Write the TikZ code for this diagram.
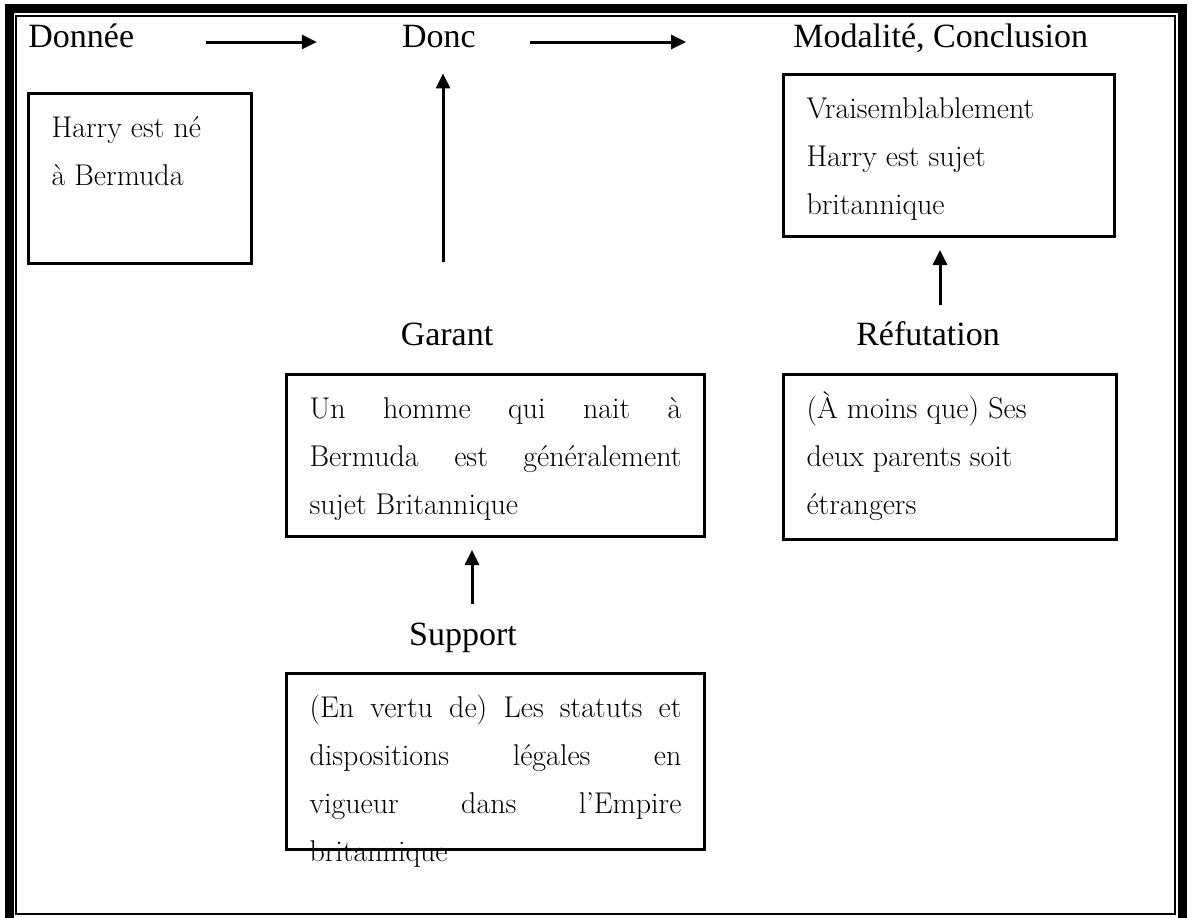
\documentclass[tikz,border=0pt]{standalone}
\usepackage{fontspec}
\newfontfamily\labelfont{Liberation Serif}
\usetikzlibrary{arrows.meta}

\tikzset{
  box/.style={draw, line width=1.5pt, anchor=north west, align=justify,
    inner xsep=11.5pt, inner ysep=4pt, text height=18pt,
    font=\fontsize{15}{24}\selectfont},
  lbl/.style={anchor=base, inner sep=0pt, text height=10pt, text depth=5pt,
    font=\labelfont\fontsize{17}{20}\selectfont},
  arr/.style={-{Triangle[length=7.5pt,width=7pt]}, line width=1.5pt},
}

\begin{document}
\begin{tikzpicture}[x=0.5pt, y=-0.5pt]
                \useasboundingbox (0,0) rectangle (1192,917);
                % double frame
                \draw[line width=4.5pt] (9,8) rectangle (1182.5,940);
                \draw[line width=1pt] (16,16) rectangle (1175,914);
                % labels
                \node[lbl, anchor=base west] (donnee) at (28,47) {Donnée};
                \node[lbl] (donc) at (439,47) {Donc};
                \node[lbl, anchor=base west] (modalite) at (793,47) {Modalité, Conclusion};
                \node[lbl] (garant) at (447,345) {Garant};
                \node[lbl] (refutation) at (928,345) {Réfutation};
                \node[lbl] (support) at (463,645) {Support};
                % boxes
                \node[box, text width=88.5pt, text depth=59pt] (harry) at (27,92)
                    {Harry est né\\à Bermuda};
                \node[box, text width=142.5pt, text depth=55pt] (conclusion) at (782,73)
                    {Vraisemblablement\\Harry est sujet\\britannique};
                \node[box, text width=186pt, text depth=55pt] (garantbox) at (285,373)
                    {Un homme qui nait à\linebreak Bermuda est généralement\linebreak sujet Britannique};
                \node[box, text width=143.5pt, text depth=56.5pt] (refutbox) at (782,373)
                    {(À moins que) Ses\\deux parents soit\\étrangers};
                \node[box, text width=186pt, text depth=62pt] (supportbox) at (285,672)
                    {(En vertu de) Les statuts et\linebreak dispositions légales en\linebreak vigueur dans l’Empire\linebreak britannique};
                % arrows
                \draw[arr, shorten <=35.5pt, shorten >=42.5pt] (donnee.east) -- (donc.west);
                \draw[arr, shorten <=27pt, shorten >=53.5pt] (donc.east) -- (modalite.west);
                \draw[arr, shorten <=31.5pt, shorten >=8pt] ([xshift=2pt]garant.north -| donc.south) -- ([xshift=2pt]donc.south);
                \draw[arr, shorten <=10pt, shorten >=6pt] ([xshift=6pt]refutation.north) -- ([xshift=6pt]refutation.north |- conclusion.south);
                \draw[arr, shorten <=10.5pt, shorten >=6pt] ([xshift=4.5pt]support.north) -- ([xshift=4.5pt]support.north |- garantbox.south);

            \end{tikzpicture}
\end{document}
